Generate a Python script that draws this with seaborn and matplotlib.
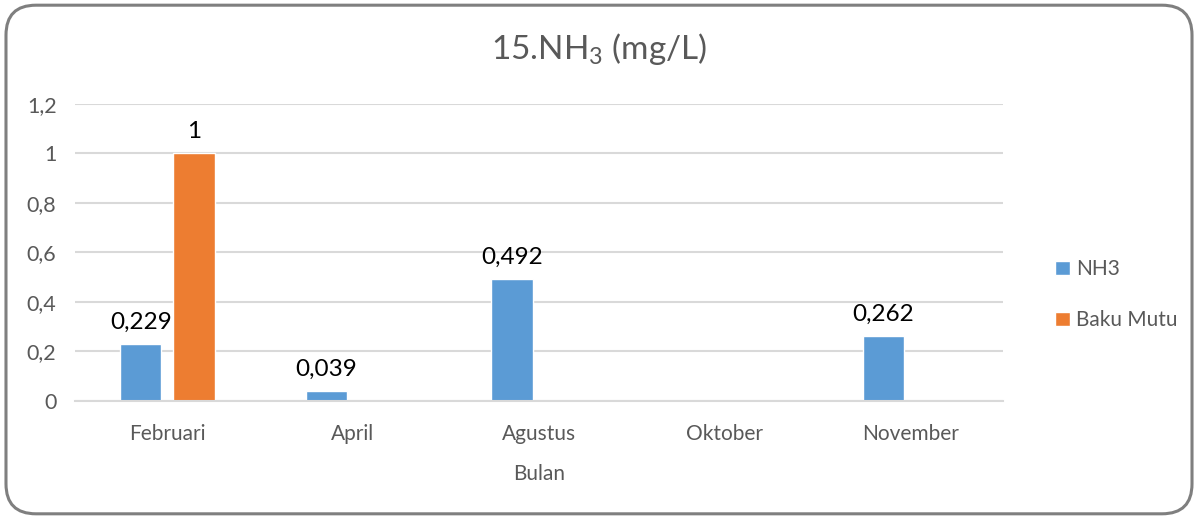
import seaborn as sns
import matplotlib.pyplot as plt
import pandas as pd
import numpy as np
from matplotlib.patches import FancyBboxPatch
from matplotlib.ticker import FuncFormatter

# Data
bulan = ['Februari', 'April', 'Agustus', 'Oktober', 'November']
nh3 = [0.229, 0.039, 0.492, np.nan, 0.262]
baku_mutu = [1, np.nan, np.nan, np.nan, np.nan]
series = ['NH3', 'Baku Mutu']
colors = ['#5B9BD5', '#ED7D31']

df = pd.DataFrame({
    'Bulan': bulan * 2,
    'Nilai': nh3 + baku_mutu,
    'Seri': [series[0]] * len(bulan) + [series[1]] * len(bulan),
})

sns.set_style('white')
plt.rcParams['font.family'] = ['Lato', 'DejaVu Sans']

fig = plt.figure(figsize=(11.98, 5.19), dpi=100)
ax = fig.add_axes([0.0622, 0.2279, 0.775, 0.5717])

sns.barplot(data=df, x='Bulan', y='Nilai', hue='Seri', order=bulan, hue_order=series,
            palette=colors, width=0.575, gap=0.22, saturation=1, ax=ax)

def koma(v, pos=None):
    return ('%g' % round(v, 3)).replace('.', ',')

for cont in ax.containers:
    ax.bar_label(cont, fmt=koma, padding=8, fontsize=17.5, color='#000000')

# Axes styling
ax.set_ylim(0, 1.2)
ax.set_xlim(-0.5, len(bulan) - 0.5)
ax.set_yticks(np.arange(0, 1.21, 0.2))
ax.yaxis.set_major_formatter(FuncFormatter(koma))
ax.yaxis.grid(True, color='#D9D9D9', linewidth=1.5)
ax.set_axisbelow(True)
for s in ['top', 'right', 'left']:
    ax.spines[s].set_visible(False)
ax.spines['bottom'].set_color('#D9D9D9')
ax.spines['bottom'].set_linewidth(1.5)
ax.tick_params(axis='y', length=0, labelsize=15.5, labelcolor='#595959', pad=13)
ax.tick_params(axis='x', which='major', length=0, labelsize=15, labelcolor='#595959', pad=17)
ax.set_xticks(np.arange(-0.5, len(bulan)), minor=True)
ax.tick_params(axis='x', which='minor', length=7, width=1.5, color='#D9D9D9', direction='out')
ax.set_xlabel('Bulan', fontsize=15, color='#595959', labelpad=14)
ax.set_ylabel('')

fig.suptitle('15.NH$_\\mathregular{3}$ (mg/L)', x=0.5, y=0.94, fontsize=24, color='#595959')

ax.legend(loc='center left', bbox_to_anchor=(0.865, 0.432), bbox_transform=fig.transFigure,
          frameon=False, fontsize=15, labelcolor='#595959', handlelength=0.7, handleheight=0.7,
          handletextpad=0.3, labelspacing=1.5)

# Rounded border of the chart area
border = FancyBboxPatch((0.005, 0.01), 0.99, 0.98, boxstyle='round,pad=0,rounding_size=0.025',
                        transform=fig.transFigure, facecolor='none', edgecolor='#7F7F7F',
                        linewidth=2.2, mutation_aspect=1198 / 519)
fig.patches.append(border)

plt.savefig('out.png', dpi=100)
